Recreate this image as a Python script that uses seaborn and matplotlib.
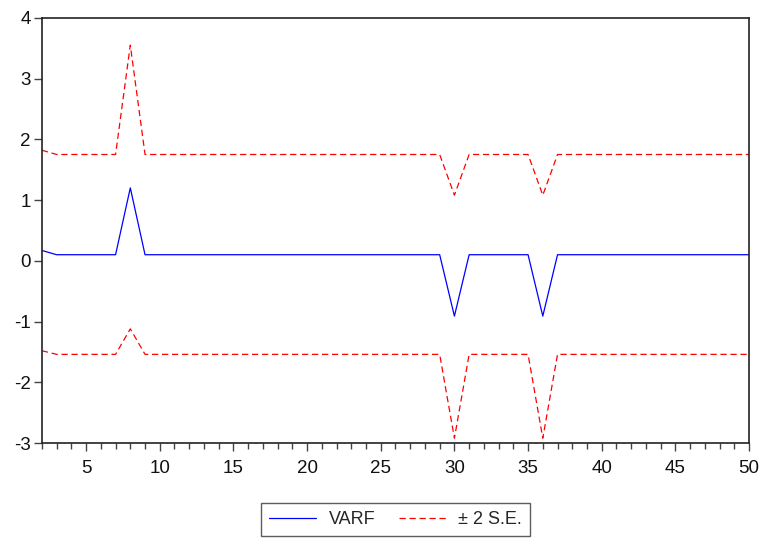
import numpy as np
import pandas as pd
import matplotlib
matplotlib.use("Agg")
import matplotlib.pyplot as plt
import seaborn as sns
from matplotlib.ticker import MultipleLocator

sns.set_theme(style="white")
plt.rcParams['font.family'] = ['Liberation Sans', 'DejaVu Sans']
plt.rcParams['axes.unicode_minus'] = False

lags = list(range(2, 51))
varf = [0.17] + [0.10] * 5 + [1.20] + [0.10] * 21 + [-0.91] + [0.10] * 5 + [-0.91] + [0.10] * 14
upper = [1.82] + [1.75] * 5 + [3.55] + [1.75] * 21 + [1.08] + [1.75] * 5 + [1.08] + [1.75] * 14
lower = [-1.48] + [-1.54] * 5 + [-1.12] + [-1.54] * 21 + [-2.92] + [-1.54] * 5 + [-2.92] + [-1.54] * 14

df = pd.DataFrame({"lag": lags, "VARF": varf, "upper": upper, "lower": lower})

fig = plt.figure(figsize=(7.62, 5.39), dpi=100)
ax = fig.add_axes([0.055, 0.178, 0.928, 0.789])

sns.lineplot(data=df, x="lag", y="VARF", ax=ax, color="#0000ff", lw=0.9, label="VARF")
sns.lineplot(data=df, x="lag", y="upper", ax=ax, color="#ff0000", lw=0.9, linestyle=(0, (5, 3)), label="± 2 S.E.")
sns.lineplot(data=df, x="lag", y="lower", ax=ax, color="#ff0000", lw=0.9, linestyle=(0, (5, 3)), label="_nolegend_")

ax.set_xlim(2, 50)
ax.set_ylim(-3, 4)
ax.set_xlabel("")
ax.set_ylabel("")
ax.xaxis.set_major_locator(MultipleLocator(5))
ax.xaxis.set_minor_locator(MultipleLocator(1))
ax.yaxis.set_major_locator(MultipleLocator(1))
ax.tick_params(axis="both", which="major", direction="out", length=6, width=1, color="#444444",
               labelsize=13.5, pad=2, labelcolor="#111111")
ax.tick_params(axis="x", which="minor", direction="out", length=4, width=1, color="#444444", bottom=True)
ax.tick_params(axis="x", which="major", pad=6)
ax.tick_params(axis="y", which="major", left=True)
ax.tick_params(axis="x", which="major", bottom=True)
for s in ax.spines.values():
    s.set_color("#222222")
    s.set_linewidth(1.2)

leg = ax.legend(loc="upper center", bbox_to_anchor=(0.5, -0.12), ncol=2, frameon=True, fancybox=False,
                fontsize=13, handlelength=2.6, columnspacing=1.3, borderpad=0.45, handletextpad=0.7)
leg.get_frame().set_edgecolor("#333333")
leg.get_frame().set_linewidth(1.0)

fig.savefig("out.png", dpi=100)
